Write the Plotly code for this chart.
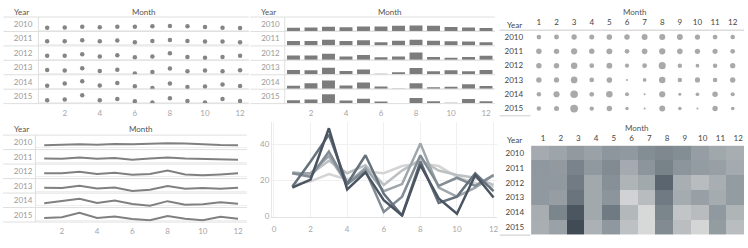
import plotly.graph_objects as go

W, H = 748, 248

years = [2010, 2011, 2012, 2013, 2014, 2015]
months = [1, 2, 3, 4, 5, 6, 7, 8, 9, 10, 11, 12]
sales_2010 = [17.5, 19.5, 23.5, 20.5, 25, 24, 28, 29.5, 28, 22, 18.5, 16.5]
sales_2011 = [24.5, 23.5, 31, 24, 28.5, 17.5, 25.5, 31.5, 25.5, 23, 21.5, 17.5]
sales_2012 = [24, 24, 33.5, 18, 27, 14, 18, 40.5, 16, 11, 16, 23]
sales_2013 = [24, 22, 36, 18, 25.5, 2.5, 11, 34, 17, 21.5, 17, 23]
sales_2014 = [16.5, 30.5, 45.5, 18, 34, 12.5, 0.5, 30.5, 7.5, 11, 24, 14]
sales_2015 = [16, 20.5, 49, 15, 24.5, 9, 0.5, 28.5, 10, 1.5, 23, 10.5]
series = [sales_2010, sales_2011, sales_2012, sales_2013, sales_2014, sales_2015]
month_ticks = [2, 4, 6, 8, 10, 12]
line_x_ticks = [0, 2, 4, 6, 8, 10, 12]
line_y_ticks = [0, 20, 40]
line_colors = ['#d4d4d4', '#bcc0c2', '#9fa7ac', '#818c94', '#65717c', '#4a5561']

FONT = 'Lato'
HEAD = '#555555'
LIGHT = '#a6a6a6'
YEARC = '#9a9a9a'
DARK = '#444444'
SEP = '#dfdfdf'

layout = dict(width=W, height=H, margin=dict(l=0, r=0, t=0, b=0),
              paper_bgcolor='white', plot_bgcolor='rgba(0,0,0,0)',
              showlegend=False, hovermode=False,
              font=dict(family=FONT, size=8, color=HEAD))
shapes = []
annotations = []
traces = []
count = [0]


def px_x(a):
    return a / W


def px_y(b):
    return 1 - b / H


def new_axes(x0, x1, top, bottom, xopts, yopts):
    count[0] += 1
    n = count[0]
    s = '' if n == 1 else str(n)
    xo = dict(domain=[px_x(x0), px_x(x1)], anchor='y' + s, showgrid=False,
              zeroline=False, fixedrange=True)
    xo.update(xopts)
    yo = dict(domain=[px_y(bottom), px_y(top)], anchor='x' + s, showgrid=False,
              zeroline=False, fixedrange=True)
    yo.update(yopts)
    layout['xaxis' + s] = xo
    layout['yaxis' + s] = yo
    return 'x' + s, 'y' + s


def hline(x0, x1, y, color=SEP, width=1):
    shapes.append(dict(type='line', xref='paper', yref='paper', x0=px_x(x0), x1=px_x(x1),
                       y0=px_y(y), y1=px_y(y), line=dict(color=color, width=width)))


def vline(x, y0, y1, color=SEP, width=1):
    shapes.append(dict(type='line', xref='paper', yref='paper', x0=px_x(x), x1=px_x(x),
                       y0=px_y(y0), y1=px_y(y1), line=dict(color=color, width=width)))


def text(s, x, y, anchor='left', color=HEAD, size=8):
    annotations.append(dict(text=s, x=px_x(x), y=px_y(y), xref='paper', yref='paper',
                            xanchor=anchor, yanchor='middle', showarrow=False,
                            font=dict(family=FONT, size=size, color=color)))


def small_multiples(kind, x0, x1, top, rowh, yrange, label_left):
    for i, (yr, vals) in enumerate(zip(years, series)):
        last = i == len(years) - 1
        xopts = dict(range=[0.5, 12.5], tickmode='array', tickvals=month_ticks,
                     showticklabels=last, ticks='', ticklabelstandoff=3,
                     tickfont=dict(color=LIGHT, size=8, family=FONT))
        mid = (yrange[0] + yrange[1]) / 2
        yopts = dict(range=yrange, tickmode='array', tickvals=[mid], ticktext=[str(yr)],
                     ticks='', ticklabelstandoff=int(round(x0 - label_left - 3)),
                     tickfont=dict(color=YEARC, size=8, family=FONT),
                     zeroline=True, zerolinecolor='#efefef', zerolinewidth=1)
        xa, ya = new_axes(x0, x1, top + i * rowh, top + (i + 1) * rowh, xopts, yopts)
        if kind == 'dot':
            traces.append(go.Scatter(x=months, y=vals, mode='markers', xaxis=xa, yaxis=ya,
                                     marker=dict(size=4.5, color='#858585'),
                                     hoverinfo='skip'))
        elif kind == 'bar':
            traces.append(go.Bar(x=months, y=vals, xaxis=xa, yaxis=ya, width=0.74,
                                 marker=dict(color='#7c7c7c', line=dict(width=0)),
                                 hoverinfo='skip'))
        else:
            traces.append(go.Scatter(x=months, y=vals, mode='lines', xaxis=xa, yaxis=ya,
                                     line=dict(color='#808080', width=2),
                                     hoverinfo='skip'))
    for i in range(len(years) + 1):
        hline(label_left - 27, x1, top + i * rowh)
    vline(x0, top, top + len(years) * rowh)


# Panel 1: dot small multiples
small_multiples('dot', 38.5, 249.5, 17.3, 14.67, [-6.5, 88], 30.5)
text('Year', 12, 11.7)
text('Month', 144, 11.7, 'center')

# Panel 2: bar small multiples
small_multiples('bar', 285.5, 496.1, 17.3, 14.67, [-3, 77], 278)
text('Year', 260, 11.7)
text('Month', 391, 11.7, 'center')

# Panel 4: line small multiples
small_multiples('line', 35.5, 247.5, 137.3, 14.73, [-10.8, 82.8], 30)
text('Year', 12, 131.3)
text('Month', 141, 131.3, 'center')

# Panel 3: bubble table
bx, by, bs = [], [], []
for yr, vals in zip(years, series):
    for m, v in zip(months, vals):
        bx.append(m)
        by.append(yr)
        bs.append(v)
xa, ya = new_axes(531.5, 743.5, 30.4, 117.6,
                  dict(range=[0.5, 12.5], side='top', tickmode='array', tickvals=months,
                       ticks='', ticklabelstandoff=2,
                       tickfont=dict(color=DARK, size=8, family=FONT)),
                  dict(range=[2015.5, 2009.5], tickmode='array', tickvals=years,
                       ticks='', ticklabelstandoff=6,
                       tickfont=dict(color=DARK, size=8, family=FONT)))
traces.append(go.Scatter(x=bx, y=by, mode='markers', xaxis=xa, yaxis=ya,
                         marker=dict(size=bs, sizemode='area', sizeref=1.6, sizemin=1,
                                     color='#858585', line=dict(width=0)),
                         hoverinfo='skip'))
hline(501, 746, 30.7, '#dcdcdc', 1.5)
hline(501, 532, 117.6, '#dcdcdc', 1.5)
text('Year', 506, 25, color=DARK)
text('Month', 637, 12, 'center')

# Panel 5: line chart
xa, ya = new_axes(272.7, 498, 124, 220.5,
                  dict(range=[-0.11, 12.17], tickmode='array', tickvals=line_x_ticks,
                       showgrid=True, gridcolor='#f0f0f0', showline=True,
                       linecolor='#e2e2e2', ticks='', ticklabelstandoff=4,
                       tickfont=dict(color=LIGHT, size=8, family=FONT)),
                  dict(range=[-0.3, 52.5], tickmode='array', tickvals=line_y_ticks,
                       showgrid=True, gridcolor='#f0f0f0', showline=True,
                       linecolor='#e8e8e8', ticks='', ticklabelstandoff=0,
                       tickfont=dict(color=LIGHT, size=8, family=FONT)))
for yr, vals, col in zip(years, series, line_colors):
    traces.append(go.Scatter(x=months, y=vals, mode='lines', xaxis=xa, yaxis=ya, name=str(yr),
                             line=dict(color=col, width=2.5), hoverinfo='skip'))

# Panel 6: heatmap
xa, ya = new_axes(532.5, 746, 148, 238.5,
                  dict(range=[0.5, 12.5], side='top', tickmode='array', tickvals=months,
                       ticks='', ticklabelstandoff=2, ticklabelshift=3,
                       tickfont=dict(color=DARK, size=8, family=FONT)),
                  dict(range=[2015.5, 2009.5], tickmode='array', tickvals=years,
                       ticks='', ticklabelstandoff=6,
                       tickfont=dict(color=DARK, size=8, family=FONT)))
traces.append(go.Heatmap(z=series, x=months, y=years, xaxis=xa, yaxis=ya,
                         zmin=0, zmax=49.5, showscale=False, hoverinfo='skip',
                         colorscale=[[0, '#d9d9d9'], [0.5, '#8e979d'], [1, '#3e4955']]))
hline(501, 532, 239, '#dcdcdc', 1.5)
text('Year', 525, 142.3, 'right', color=DARK)
text('Month', 639, 130, 'center')

layout['shapes'] = shapes
layout['annotations'] = annotations
fig = go.Figure(data=traces, layout=layout)
fig.write_html('out.html', config={'displayModeBar': False, 'staticPlot': True},
               post_script="document.body.style.margin='0';document.body.style.overflow='hidden';")
